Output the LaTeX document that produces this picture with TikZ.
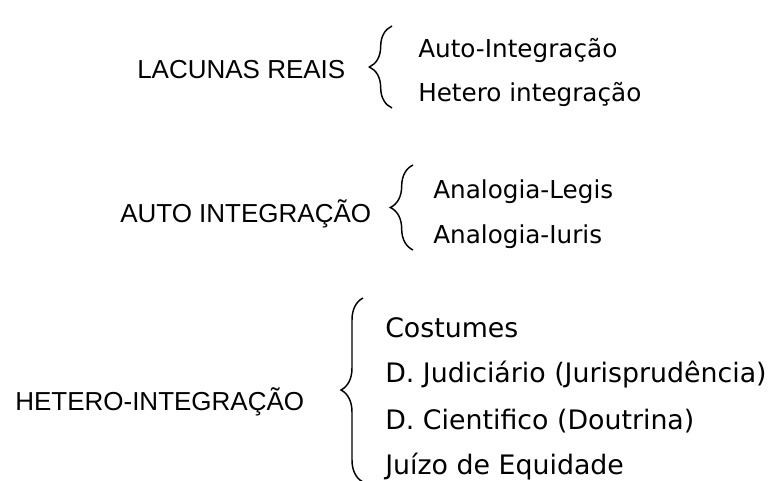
\documentclass[tikz,border=0pt]{standalone}
\usepackage{fontspec}
\setmainfont{Liberation Sans}
\newfontfamily\itemfont{DejaVu Sans}
\usetikzlibrary{decorations.pathreplacing}

\begin{document}
\begin{tikzpicture}[x=0.75pt, y=-0.75pt,
        head node/.style={anchor=base west, inner sep=0pt, font=\fontsize{19.5}{22}\selectfont},
        item node/.style={anchor=base west, inner sep=0pt, font=\itemfont\fontsize{18.5}{22}\selectfont},
        low item/.style={anchor=base west, inner sep=0pt, font=\itemfont\fontsize{20.1}{24}\selectfont},
        curly/.style={decorate, decoration={brace, amplitude=#1}, line width=1.1pt}]

    \useasboundingbox (0,0) rectangle (769,480);

    % Lacunas reais
    \node[head node] (lr) at (137,78) {LACUNAS REAIS};
    \node[item node] (ai) at (418,57) {Auto-Integração};
    \node[item node] (hi) at (418,101) {Hetero integração};
    \coordinate (b1s) at (392,108);
    \coordinate (b1e) at (392,26);
    \draw[curly=17pt] (b1s) -- (b1e);

    % Auto integracao
    \node[head node] (ait) at (120,222) {AUTO INTEGRAÇÃO};
    \node[item node] (al) at (433,198) {Analogia-Legis};
    \node[item node] (ar) at (433,243) {Analogia-Iuris};
    \coordinate (b2s) at (413,250);
    \coordinate (b2e) at (413,165);
    \draw[curly=17pt] (b2s) -- (b2e);

    % Hetero-integracao
    \node[head node] (hit) at (15,410) {HETERO-INTEGRAÇÃO};
    \node[low item] (co) at (385,337) {Costumes};
    \node[low item] (dj) at (385,382) {D. Judiciário (Jurisprudência)};
    \node[low item] (dc) at (385,429) {D. Cientifico (Doutrina)};
    \node[low item] (je) at (385,474) {Juízo de Equidade};
    \coordinate (b3s) at (363,482);
    \coordinate (b3e) at (363,298);
    \draw[curly=16.5pt] (b3s) -- (b3e);
\end{tikzpicture}
\end{document}
